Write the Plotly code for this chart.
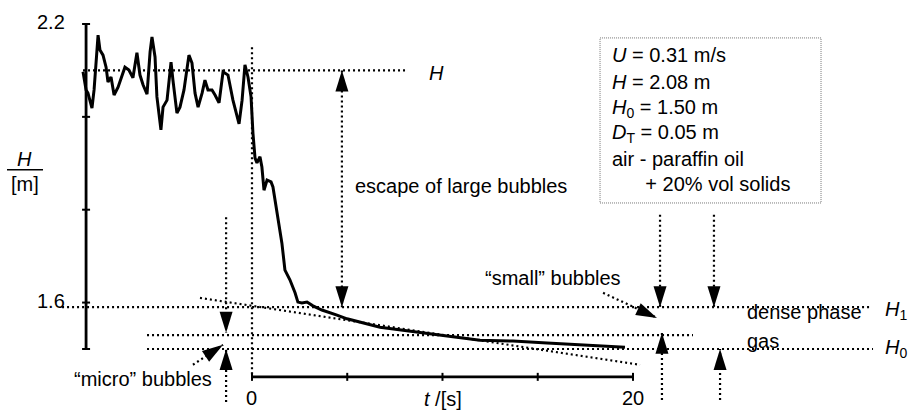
import math
import plotly.graph_objects as go

# ---------------- data ----------------
t_s = [-8.87, -8.71, -8.61, -8.40, -8.29, -8.08, -7.98, -7.82, -7.66, -7.56,
       -7.40, -7.24, -7.03, -6.82, -6.67, -6.46, -6.25, -6.04, -5.88, -5.72,
       -5.51, -5.35, -5.25, -5.09, -4.99, -4.78, -4.67, -4.46, -4.25, -4.15,
       -3.94, -3.78, -3.57, -3.31, -3.15, -2.99, -2.83, -2.62, -2.47, -2.31,
       -2.10, -1.94, -1.73, -1.52, -1.26, -1.00, -0.68, -0.52, -0.37, -0.21,
       -0.05, 0.05, 0.16, 0.26, 0.42, 0.52, 0.63, 0.79, 1.00, 1.10,
       1.31, 1.57, 1.73, 1.99, 2.26, 2.41, 2.62, 2.89, 3.20, 3.67,
       4.46, 4.99, 6.72, 8.45, 10.24, 11.97, 13.70, 15.49, 17.22, 19.58]
h_m = [2.097, 2.058, 2.051, 2.019, 2.058, 2.176, 2.144, 2.133, 2.107, 2.075,
       2.086, 2.047, 2.064, 2.090, 2.107, 2.101, 2.084, 2.138, 2.090, 2.069,
       2.049, 2.140, 2.172, 2.129, 2.043, 1.972, 2.021, 2.036, 2.118, 2.079,
       2.008, 2.021, 2.058, 2.133, 2.116, 2.051, 2.021, 2.051, 2.079, 2.058,
       2.058, 2.047, 2.030, 2.097, 2.090, 2.036, 1.985, 2.036, 2.112, 2.086,
       2.043, 1.965, 1.911, 1.901, 1.914, 1.892, 1.842, 1.864, 1.860, 1.849,
       1.799, 1.728, 1.670, 1.649, 1.621, 1.601, 1.599, 1.601, 1.593, 1.584,
       1.573, 1.565, 1.547, 1.537, 1.528, 1.519, 1.517, 1.513, 1.509, 1.504]

# characteristic levels (m)
H_level = 2.10
H1_level = 1.59
Hmid_level = 1.53
H0_level = 1.50

# extrapolated slow-decay line
tangent_t = [-2.73, 20.37]
tangent_h = [1.610, 1.466]

# axes
y_ticks = [2.2, 2.0, 1.8, 1.6, 1.5]
y_tick_text = ["2.2", "", "", "1.6", ""]
x_ticks = [0, 5, 10, 15, 20]
x_tick_text = ["0", "", "", "", "20"]

info_lines = ["<i>U</i> = 0.31 m/s", "<i>H</i> = 2.08 m",
              "<i>H</i><sub>0</sub> = 1.50 m", "<i>D</i><sub>T</sub> = 0.05 m",
              "air - paraffin oil", "      + 20% vol solids"]

# arrows: start (t, h) -> tip (t, h), heads
arrow_t0 = [4.72, -1.36, -1.36, -3.10, 21.42, 24.25, 21.52, 24.57, 18.43]
arrow_h0 = [2.10, 1.784, 1.386, 1.466, 1.789, 1.789, 1.390, 1.390, 1.621]
arrow_t1 = [4.72, -1.36, -1.36, -1.52, 21.42, 24.25, 21.52, 24.57, 21.26]
arrow_h1 = [1.59, 1.535, 1.50, 1.509, 1.59, 1.59, 1.535, 1.50, 1.567]
arrow_both = [True, False, False, False, False, False, False, False, False]

# ---------------- view ----------------
W, Hpx = 910, 410
x_range = [-13.228, 34.541]
y_range = [1.3686, 2.2517]
sx = W / (x_range[1] - x_range[0])
sy = Hpx / (y_range[1] - y_range[0])

FONT = "Liberation Sans, Arial, Helvetica, sans-serif"
FS = 20
DOT = "2px,3px"
ax_t = -8.71     # position of the drawn H axis
ax_h = 1.44      # position of the drawn t axis

fig = go.Figure()
fig.add_trace(go.Scatter(x=t_s, y=h_m, mode="lines",
                         line=dict(color="black", width=3),
                         hoverinfo="skip"))
fig.add_trace(go.Scatter(x=tangent_t, y=tangent_h, mode="lines",
                         line=dict(color="black", width=2.2, dash=DOT),
                         hoverinfo="skip"))

shapes = []


def dotted(x0, y0, x1, y1, width=2.2):
    shapes.append(dict(type="line", xref="x", yref="y", x0=x0, y0=y0, x1=x1, y1=y1,
                       line=dict(color="black", width=width, dash=DOT), layer="above"))


def solid(x0, y0, x1, y1, width=2.8):
    shapes.append(dict(type="line", xref="x", yref="y", x0=x0, y0=y0, x1=x1, y1=y1,
                       line=dict(color="black", width=width)))


def head(tx, ty, fx, fy, L=21, Wd=13):
    dx = (tx - fx) * sx
    dy = (ty - fy) * sy
    n = math.hypot(dx, dy)
    ux, uy = dx / n, dy / n
    bx, by = -L * ux, -L * uy
    px, py = -uy * Wd / 2, ux * Wd / 2
    path = "M0,0 L{:.2f},{:.2f} L{:.2f},{:.2f} Z".format(bx + px, by + py, bx - px, by - py)
    shapes.append(dict(type="path", xref="x", yref="y", xsizemode="pixel", ysizemode="pixel",
                       xanchor=tx, yanchor=ty, path=path, fillcolor="black",
                       line=dict(width=0), layer="above"))


# horizontal reference lines
dotted(-8.87, H_level, 8.14, H_level)
dotted(-9.97, H1_level, 32.4, H1_level)
dotted(-5.51, Hmid_level, 23.15, Hmid_level)
dotted(-5.51, H0_level, 32.6, H0_level)
# vertical line at t = 0
dotted(0, 2.150, 0, ax_h)

# drawn H axis
solid(ax_t, min(y_ticks), ax_t, max(y_ticks))
for v in y_ticks:
    shapes.append(dict(type="line", xref="x", yref="y", xsizemode="pixel", xanchor=ax_t,
                       x0=-4, x1=4, y0=v, y1=v, line=dict(color="black", width=2)))
# drawn t axis
solid(min(x_ticks), ax_h, max(x_ticks), ax_h)
for v in x_ticks:
    shapes.append(dict(type="line", xref="x", yref="y", ysizemode="pixel", yanchor=ax_h,
                       y0=-4, y1=4, x0=v, x1=v, line=dict(color="black", width=2)))

# arrows
for a0, b0, a1, b1, both in zip(arrow_t0, arrow_h0, arrow_t1, arrow_h1, arrow_both):
    dotted(a0, b0, a1, b1)
    head(a1, b1, a0, b0)
    if both:
        head(a0, b0, a1, b1)

# info box
shapes.append(dict(type="rect", xref="x", yref="y", x0=18.27, x1=29.87, y0=1.8145, y1=2.170,
                   line=dict(color="#777777", width=1, dash="1px,1px")))
# fraction bar for the axis title
shapes.append(dict(type="line", xref="x", yref="y", x0=-12.86, x1=-10.97, y0=1.886, y1=1.886,
                   line=dict(color="black", width=1.5)))

ann = []


def text(x, y, s, anchor="left", yshift=0):
    ann.append(dict(x=x, y=y, xref="x", yref="y", text=s, showarrow=False,
                    xanchor=anchor, yanchor="middle", yshift=yshift,
                    font=dict(family=FONT, size=FS, color="black")))


for v, s in zip(y_ticks, y_tick_text):
    if s:
        text(-9.71, v, s, anchor="right", yshift=2)
for v, s in zip(x_ticks, x_tick_text):
    if s:
        text(v, 1.3945, s, anchor="center")
text(10.03, 1.3945, "<i>t</i> /[s]", anchor="center", yshift=-1)
text(-11.92, 1.909, "<i>H</i>", anchor="center")
text(-11.92, 1.855, "[m]", anchor="center")
text(9.71, H_level, "<i>H</i>", anchor="center", yshift=-3)
text(5.30, 1.851, "escape of large bubbles")
text(12.13, 1.653, "\u201csmall\u201d bubbles")
text(-9.45, 1.435, "\u201cmicro\u201d bubbles")
text(25.88, 1.580, "dense phase")
text(25.88, 1.517, "gas")
text(33.12, 1.584, "<i>H</i><sub>1</sub>")
text(33.12, 1.502, "<i>H</i><sub>0</sub>")

info_y = [2.133, 2.075, 2.019, 1.965, 1.909, 1.855]
for v, s in zip(info_y, info_lines):
    text(18.79, v, s)

fig.update_layout(
    width=W, height=Hpx,
    margin=dict(l=0, r=0, t=0, b=0),
    paper_bgcolor="white", plot_bgcolor="white",
    showlegend=False,
    xaxis=dict(range=x_range, visible=False, fixedrange=True),
    yaxis=dict(range=y_range, visible=False, fixedrange=True),
    shapes=shapes, annotations=ann,
)

fig.write_html("out.html")
